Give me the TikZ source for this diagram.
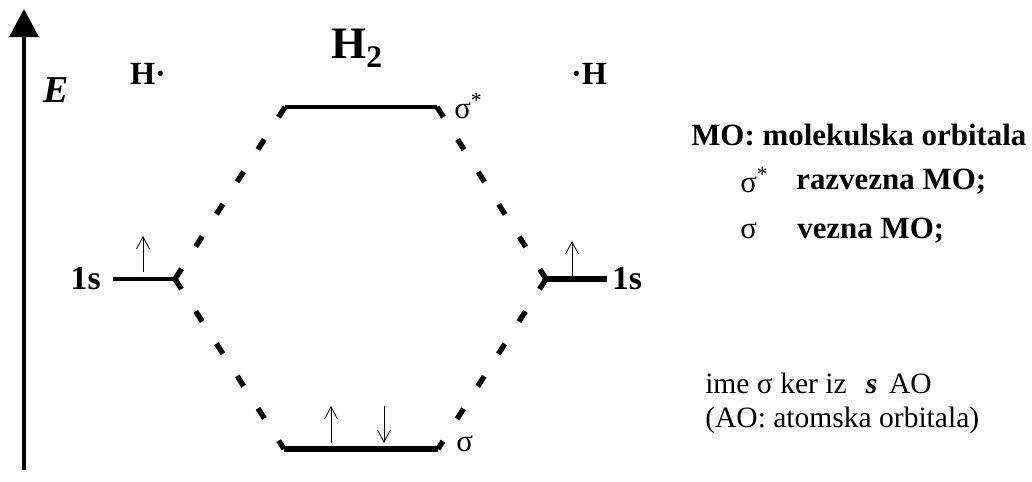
\documentclass[tikz,border=0pt]{standalone}
\usepackage{fontspec}
\setmainfont{Liberation Serif}
\usepackage{tikz}
\usetikzlibrary{positioning, arrows.meta}

\begin{document}
\begin{tikzpicture}[x=0.025cm, y=-0.025cm,
  level/.style={line width=2.8pt},
  corr/.style={line width=3.8pt, dash pattern=on 0.3cm off 0.66cm},
  spin/.style={line width=0.6pt, -{Straight Barb[length=0.3cm, width=0.32cm]}},
  lab/.style={font=\fontsize{24}{28}\selectfont\bfseries, inner sep=0pt},
  legend/.style={font=\fontsize{22}{26}\selectfont, inner sep=0pt, anchor=west}]
\useasboundingbox (0,0) rectangle (1032,481);

% energy axis
\coordinate (eBot) at (24,470);
\coordinate (eTop) at (24,9);
\draw[line width=3pt, -{Triangle[width=0.72cm, length=0.7cm]}] (eBot) -- (eTop);
\node[font=\fontsize{27}{30}\selectfont\bfseries\itshape, inner sep=0pt] (lblE) at (56,90) {E};

% levels
\coordinate (aoL1) at (113,279);
\coordinate (aoL2) at (175,279);
\coordinate (aoR1) at (546,279);
\coordinate (aoR2) at (607,279);
\coordinate (moA1) at (285,107);
\coordinate (moA2) at (437,107);
\coordinate (moB1) at (284,449);
\coordinate (moB2) at (438,449);

\draw[level] (aoL1) -- (aoL2);
\draw[level, line width=4pt] (aoR1) -- (aoR2);
\draw[level] (moA1) -- (moA2);
\draw[level, line width=4pt] (moB1) -- (moB2);

\draw[corr] (moA1) -- (aoL2);
\draw[corr] (aoL2) -- (moB1);
\draw[corr] (moA2) -- (aoR1);
\draw[corr] (aoR1) -- (moB2);

% electrons
\draw[spin] (143,272) -- (143,236);
\draw[spin] (572,276) -- (572,241);
\draw[spin] (331,443) -- (331,406);
\draw[spin] (384,406) -- (384,443);

% labels
\node[lab, font=\fontsize{23}{27}\selectfont\bfseries] (atomL) at (148,74) {H·};
\node[lab, font=\fontsize{32}{36}\selectfont\bfseries] (mol) at (357,48) {H\textsubscript{2}};
\node[lab, font=\fontsize{23}{27}\selectfont\bfseries] (atomR) at (589,74) {·H};
\node[lab, left=0.3cm of aoL1] (lbl1sL) {1s};
\node[lab, right=0.12cm of aoR2] (lbl1sR) {1s};
\node[legend] (lblSs) at (454,106) {σ\textsuperscript{*}};
\node[legend] (lblS) at (456,444) {σ};

% legend
\node[legend] (moTitle) at (691,135) {\bfseries MO: molekulska orbitala};
\node[legend] (symA) at (740,180) {σ\textsuperscript{*}};
\node[legend] (txtA) at (796,182) {\bfseries razvezna MO;};
\node[legend] (symB) at (740,231) {σ};
\node[legend] (txtB) at (797,231) {\bfseries vezna MO;};
\node[legend, font=\fontsize{21}{25}\selectfont] (noteA) at (705,383) {ime σ ker iz\hspace{0.4em} \textbf{\textit{s}}\hspace{0.15em} AO};
\node[legend, font=\fontsize{21}{25}\selectfont] (noteB) at (705,420) {(AO: atomska orbitala)};
\end{tikzpicture}
\end{document}
